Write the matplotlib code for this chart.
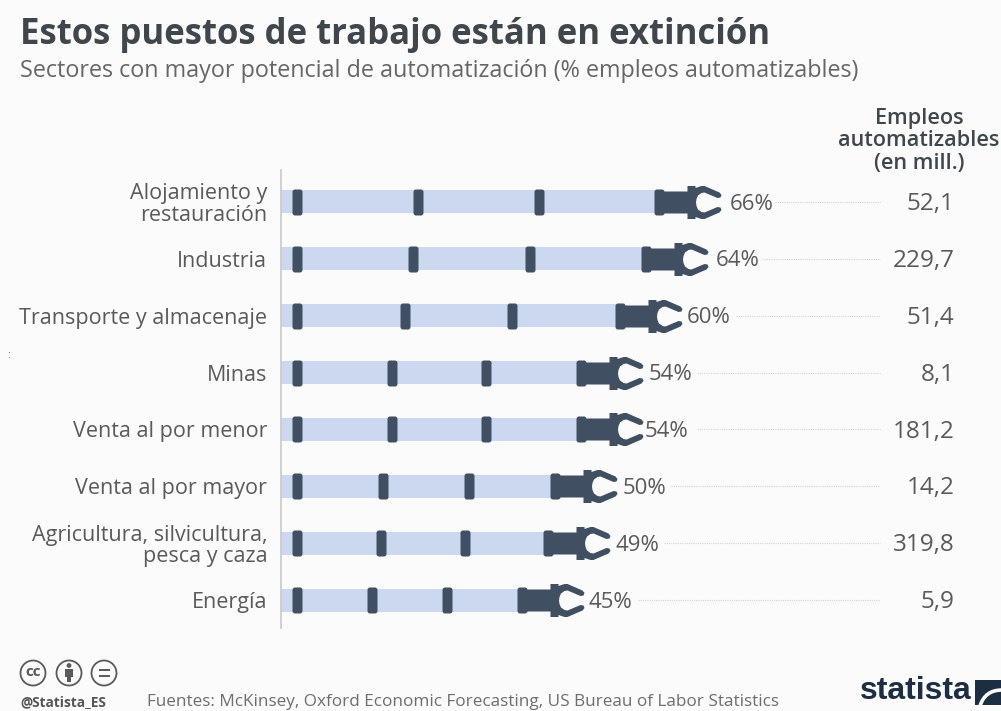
import matplotlib
matplotlib.use("Agg")
import matplotlib.pyplot as plt
from matplotlib.path import Path
from matplotlib.patches import Circle, PathPatch, Rectangle

# Data
categories = ["Alojamiento y\nrestauración", "Industria", "Transporte y almacenaje", "Minas",
              "Venta al por menor", "Venta al por mayor",
              "Agricultura, silvicultura,\npesca y caza", "Energía"]
shares = [66, 64, 60, 54, 54, 50, 49, 45]
jobs = ["52,1", "229,7", "51,4", "8,1", "181,2", "14,2", "319,8", "5,9"]

title = "Estos puestos de trabajo están en extinción"
subtitle = "Sectores con mayor potencial de automatización (% empleos automatizables)"
column_head = "Empleos\nautomatizables\n(en mill.)"
source = "Fuentes: McKinsey, Oxford Economic Forecasting, US Bureau of Labor Statistics"

# Palette and layout
BG = "#fbfbfb"
DARK = "#414f62"
BAR = "#ccd8f0"
TEXT = "#5a5a5a"
HEAD = "#3f474d"
NAVY = "#1c2f42"
FONT = "Open Sans"
W, H = 1001, 711
PX_PER_UNIT, ZERO_PX = 6.52, 229.0
ROW0_PX, ROW_PX = 202.0, 56.86
FIRST_TICK = (297 - ZERO_PX) / PX_PER_UNIT
LABEL_GAP_PX = [70, 69, 67, 68, 64, 68, 67.5, 66.5]

plt.rcParams["font.family"] = [FONT, "DejaVu Sans"]
fig = plt.figure(figsize=(W / 100, H / 100), dpi=100, facecolor=BG)

# Full-figure layer in pixel units for header, footer and logos
page = fig.add_axes([0, 0, 1, 1], zorder=0)
page.set_xlim(0, W)
page.set_ylim(H, 0)
page.axis("off")

# Chart axes: x in share units, y in row numbers
left, right, top, bottom = 280.5, 1001.0, 170.0, 628.0
ax = fig.add_axes([left / W, 1 - bottom / H, (right - left) / W, (bottom - top) / H], zorder=1)
ax.patch.set_alpha(0)
ax.set_xlim((left - ZERO_PX) / PX_PER_UNIT, (right - ZERO_PX) / PX_PER_UNIT)
ax.set_ylim((bottom - ROW0_PX) / ROW_PX, (top - ROW0_PX) / ROW_PX)
for side in ("top", "right", "bottom"):
    ax.spines[side].set_visible(False)
ax.spines["left"].set_color("#c9c9c9")
ax.spines["left"].set_linewidth(1.2)
ax.set_xticks([])
rows = list(range(len(categories)))
ax.set_yticks(rows, categories, fontsize=15.5, color=TEXT, linespacing=1.02, ha="right")
ax.tick_params(axis="y", length=0, pad=9.5)


def rounded_block(half_w, half_h, r):
    """Rounded rectangle centred on the origin, in pixels, y up."""
    m, l, c = Path.MOVETO, Path.LINETO, Path.CURVE3
    verts = [(-half_w + r, -half_h), (half_w - r, -half_h), (half_w, -half_h), (half_w, -half_h + r),
             (half_w, half_h - r), (half_w, half_h), (half_w - r, half_h),
             (-half_w + r, half_h), (-half_w, half_h), (-half_w, half_h - r),
             (-half_w, -half_h + r), (-half_w, -half_h), (-half_w + r, -half_h)]
    return Path(verts, [m, l, c, c, l, c, c, l, c, c, l, c, c])


def gripper():
    """Arm body, flange and jaws, with the origin on the arm's base joint."""
    upper = [(2, 11), (28, 11), (28, 16.5), (36, 16.5), (36, 14.5), (42, 16.5), (45, 16.5),
             (60, 10), (62, 7.5), (61, 5), (58, 4.5), (45, 10), (42, 9.5), (38.5, 7),
             (37, 3.5), (36.5, 0)]
    lower = [(x, -y) for x, y in reversed(upper[:-1])]
    verts = upper + lower + [upper[0]]
    return Path(verts, [Path.MOVETO] + [Path.LINETO] * (len(verts) - 1))


def pixel_marker(path):
    """Marker size in points that draws a path at its own pixel scale."""
    reach = abs(path.vertices).max()
    return path, 2 * reach * 72 / fig.dpi


tick_marker, tick_size = pixel_marker(rounded_block(5, 13, 2.5))
grip_marker, grip_size = pixel_marker(gripper())

ax.barh(rows, shares, height=23 / ROW_PX, color=BAR, linewidth=0, zorder=1)
for row, share, job, gap in zip(rows, shares, jobs, LABEL_GAP_PX):
    steps = [FIRST_TICK + (share - FIRST_TICK) * k / 3 for k in range(4)]
    ax.plot(steps, [row] * 4, ls="none", marker=tick_marker, ms=tick_size, mfc=DARK, mew=0, zorder=3)
    ax.plot([share], [row], ls="none", marker=grip_marker, ms=grip_size, mfc=DARK, mew=0, zorder=3)
    ax.annotate(f"{share}%", (share, row), xytext=(gap * 0.72, -1.5), textcoords="offset points",
                fontsize=16, color=TEXT, va="center", ha="left")
    ax.plot([share + 116 / PX_PER_UNIT, (880 - ZERO_PX) / PX_PER_UNIT], [row, row],
            color="#d4d4d4", lw=0.8, ls=(0, (1, 1)), zorder=1)
    ax.annotate(job, ((954.5 - ZERO_PX) / PX_PER_UNIT, row), xytext=(0, -1.5), textcoords="offset points",
                fontsize=17.5, color=TEXT, va="center", ha="right")

# Header
page.text(20, 35, title, fontsize=25, fontweight="bold", color=HEAD, va="center", ha="left")
page.text(20, 71, subtitle, fontsize=16.8, color="#666666", va="center", ha="left")
page.text(919, 141, column_head, fontsize=15.6, fontweight="semibold", color=HEAD,
          va="center", ha="center", linespacing=1.07)
page.text(9, 355, ":", fontsize=8, color="#777777", va="center", ha="center")

# Footer: licence badges
for cx in (33, 69, 104):
    page.add_patch(Circle((cx, 673), 12.5, fc="none", ec="#5a5a5a", lw=1.3))
page.text(33, 672.5, "cc", fontsize=11, fontweight="bold", color="#5a5a5a", va="center", ha="center")
page.add_patch(Circle((69, 665.5), 2.4, fc="#5a5a5a", ec="none"))
page.add_patch(Rectangle((65, 669), 8, 7.5, fc="#5a5a5a", ec="none"))
page.add_patch(Rectangle((67, 676), 4, 6, fc="#5a5a5a", ec="none"))
page.add_patch(Rectangle((98.5, 668.5), 11, 2.4, fc="#5a5a5a", ec="none"))
page.add_patch(Rectangle((98.5, 674.5), 11, 2.4, fc="#5a5a5a", ec="none"))
page.text(20, 702, "@Statista_ES", fontsize=9.8, fontweight="bold", color="#555555", va="center", ha="left")
page.text(147, 702.5, source, fontsize=12.35, color="#6d6d6d", va="center", ha="left")

# Footer: publisher mark
page.text(860, 691, "statista", fontsize=23, family="Liberation Sans", fontweight="bold",
          color=NAVY, va="center", ha="left")
page.add_patch(Rectangle((975, 680), 26, 25, fc=NAVY, ec="none"))
swoosh = Path([(980, 706), (985, 690), (1002, 690)], [Path.MOVETO, Path.CURVE3, Path.CURVE3])
page.add_patch(PathPatch(swoosh, fc="none", ec=BG, lw=2.6))

fig.savefig("out.png", dpi=100, facecolor=BG)
